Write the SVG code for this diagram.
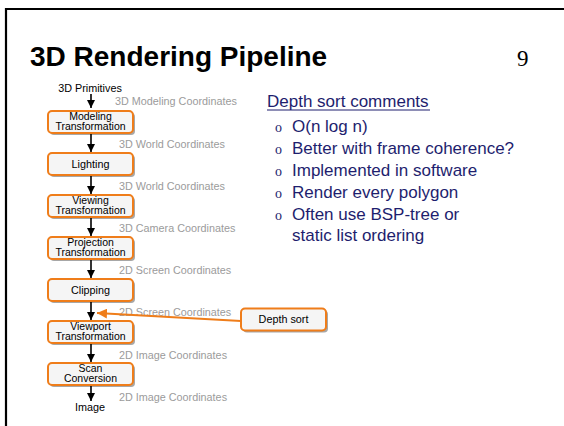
<svg xmlns="http://www.w3.org/2000/svg" width="564" height="426" viewBox="0 0 564 426">
  <style>
    .frame { stroke: #000; stroke-width: 2.2; fill: none; }
    .title { font-family: "Liberation Sans", Arial, sans-serif; font-weight: bold; font-size: 28px; fill: #000; }
    .pagenum { font-family: "Liberation Serif", "Times New Roman", serif; font-size: 23px; fill: #000; }
    .box { fill: #f5f5f5; stroke: #ef7d1a; stroke-width: 2; }
    .shadow { fill: #8a8a8a; opacity: 0.75; }
    .lbl { font-family: "Liberation Sans", Arial, sans-serif; font-size: 10.8px; fill: #000; text-anchor: middle; }
    .lbl2 { font-family: "Liberation Sans", Arial, sans-serif; font-size: 10.5px; fill: #000; text-anchor: middle; }
    .coord { font-family: "Liberation Sans", Arial, sans-serif; font-size: 10.8px; fill: #9b9b9b; }
    .flow { stroke: #000; stroke-width: 1.6; fill: none; }
    .note { stroke: #ef7d1a; stroke-width: 2; fill: none; }
    .head { font-family: "Liberation Sans", Arial, sans-serif; font-size: 17px; fill: #1e1e6e; }
    .item { font-family: "Liberation Sans", Arial, sans-serif; font-size: 17px; fill: #1e1e6e; }
    .dot { font-family: "Liberation Serif", "Times New Roman", serif; font-size: 14px; fill: #1e1e6e; }
  </style>
  <defs>
    <marker id="arrowBlack" viewBox="0 0 8 8" refX="8" refY="4" markerWidth="8" markerHeight="8" markerUnits="userSpaceOnUse" orient="auto">
      <path d="M0,0 L8,4 L0,8 z" fill="#000"/>
    </marker>
    <marker id="arrowOrange" viewBox="0 0 10 10" refX="10" refY="5" markerWidth="10" markerHeight="10" markerUnits="userSpaceOnUse" orient="auto">
      <path d="M0,0 L10,5 L0,10 z" fill="#ef7d1a"/>
    </marker>
  </defs>

  <rect width="564" height="426" fill="#fff"/>

  <!-- slide frame -->
  <path class="frame" d="M6,426 V9 H564"/>

  <text class="title" x="30" y="66">3D Rendering Pipeline</text>
  <text class="pagenum" x="517" y="66">9</text>

  <!-- pipeline inputs / outputs -->
  <text class="lbl" x="90" y="92">3D Primitives</text>
  <text class="lbl" x="90" y="411">Image</text>

  <!-- coordinate system labels -->
  <text class="coord" x="115" y="105">3D Modeling Coordinates</text>
  <text class="coord" x="119" y="148">3D World Coordinates</text>
  <text class="coord" x="119" y="190">3D World Coordinates</text>
  <text class="coord" x="119" y="232">3D Camera Coordinates</text>
  <text class="coord" x="119" y="274">2D Screen Coordinates</text>
  <text class="coord" x="119" y="316">2D Screen Coordinates</text>
  <text class="coord" x="119" y="359">2D Image Coordinates</text>
  <text class="coord" x="119" y="401">2D Image Coordinates</text>

  <!-- pipeline stages -->
  <g id="modeling">
    <rect class="shadow" x="50" y="113" width="85" height="22" rx="4"/>
    <rect class="box" x="48" y="111" width="85" height="22" rx="4"/>
    <text class="lbl2" x="90.5" y="120.3">Modeling<tspan x="90.5" dy="9.5">Transformation</tspan></text>
  </g>
  <g id="lighting">
    <rect class="shadow" x="50" y="155" width="85" height="22" rx="4"/>
    <rect class="box" x="48" y="153" width="85" height="22" rx="4"/>
    <text class="lbl" x="90.5" y="167.5">Lighting</text>
  </g>
  <g id="viewing">
    <rect class="shadow" x="50" y="197" width="85" height="22" rx="4"/>
    <rect class="box" x="48" y="195" width="85" height="22" rx="4"/>
    <text class="lbl2" x="90.5" y="204.3">Viewing<tspan x="90.5" dy="9.5">Transformation</tspan></text>
  </g>
  <g id="projection">
    <rect class="shadow" x="50" y="239" width="85" height="22" rx="4"/>
    <rect class="box" x="48" y="237" width="85" height="22" rx="4"/>
    <text class="lbl2" x="90.5" y="246.3">Projection<tspan x="90.5" dy="9.5">Transformation</tspan></text>
  </g>
  <g id="clipping">
    <rect class="shadow" x="50" y="281" width="85" height="22" rx="4"/>
    <rect class="box" x="48" y="279" width="85" height="22" rx="4"/>
    <text class="lbl" x="90.5" y="293.5">Clipping</text>
  </g>
  <g id="viewport">
    <rect class="shadow" x="50" y="323" width="85" height="22" rx="4"/>
    <rect class="box" x="48" y="321" width="85" height="22" rx="4"/>
    <text class="lbl2" x="90.5" y="330.3">Viewport<tspan x="90.5" dy="9.5">Transformation</tspan></text>
  </g>
  <g id="scan">
    <rect class="shadow" x="50" y="365" width="85" height="22" rx="4"/>
    <rect class="box" x="48" y="363" width="85" height="22" rx="4"/>
    <text class="lbl2" x="90.5" y="372.3">Scan<tspan x="90.5" dy="9.5">Conversion</tspan></text>
  </g>
  <g id="depthsort">
    <rect class="shadow" x="243" y="310.5" width="85" height="22" rx="4"/>
    <rect class="box" x="241" y="308.5" width="85" height="22" rx="4"/>
    <text class="lbl" x="283.5" y="323">Depth sort</text>
  </g>

  <!-- connectors -->
  <g id="connectors">
    <line class="flow" x1="91" y1="94" x2="91" y2="108" marker-end="url(#arrowBlack)"/>
    <line class="flow" x1="91" y1="134" x2="91" y2="152" marker-end="url(#arrowBlack)"/>
    <line class="flow" x1="91" y1="176" x2="91" y2="194" marker-end="url(#arrowBlack)"/>
    <line class="flow" x1="91" y1="218" x2="91" y2="236" marker-end="url(#arrowBlack)"/>
    <line class="flow" x1="91" y1="260" x2="91" y2="278" marker-end="url(#arrowBlack)"/>
    <line class="flow" x1="91" y1="302" x2="91" y2="320" marker-end="url(#arrowBlack)"/>
    <line class="flow" x1="91" y1="344" x2="91" y2="362" marker-end="url(#arrowBlack)"/>
    <line class="flow" x1="91" y1="386" x2="91" y2="401" marker-end="url(#arrowBlack)"/>
    <line class="note" x1="241" y1="321" x2="97" y2="313" marker-end="url(#arrowOrange)"/>
  </g>

  <!-- notes -->
  <text class="head" x="267" y="107">Depth sort comments</text>
  <line x1="267" y1="110" x2="430" y2="110" stroke="#1e1e6e" stroke-width="1.2"/>
  <g>
    <text class="dot" x="275" y="131.5">o</text>
    <text class="item" x="292" y="131.5">O(n log n)</text>
    <text class="dot" x="275" y="153.5">o</text>
    <text class="item" x="292" y="153.5">Better with frame coherence?</text>
    <text class="dot" x="275" y="175.5">o</text>
    <text class="item" x="292" y="175.5">Implemented in software</text>
    <text class="dot" x="275" y="197.5">o</text>
    <text class="item" x="292" y="197.5">Render every polygon</text>
    <text class="dot" x="275" y="219.5">o</text>
    <text class="item" x="292" y="219.5">Often use BSP-tree or<tspan x="292" dy="21.5">static list ordering</tspan></text>
  </g>
</svg>
